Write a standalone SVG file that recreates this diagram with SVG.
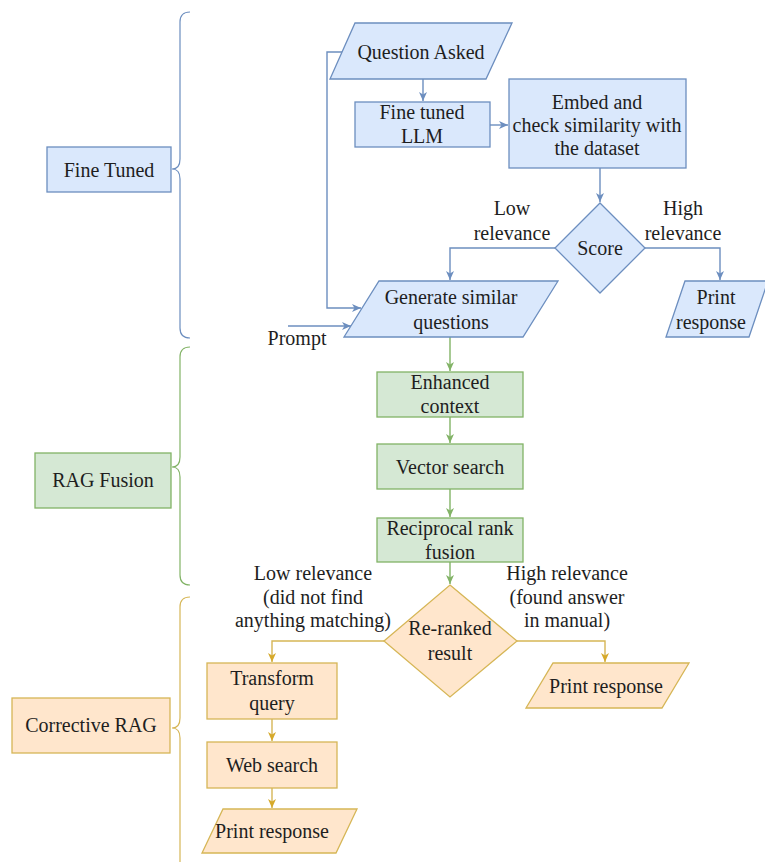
<svg xmlns="http://www.w3.org/2000/svg" width="765" height="862" viewBox="0 0 765 862">
<style>
text{font-family:"Liberation Serif","Times New Roman",serif;font-size:20px;fill:#1e1e1e;text-anchor:middle}
.b{fill:#dae8fc;stroke:#6c8ebf;stroke-width:1.3}
.g{fill:#d5e8d4;stroke:#82b366;stroke-width:1.3}
.o{fill:#ffe6cc;stroke:#d6b656;stroke-width:1.3}
.cb{fill:none;stroke:#6c8ebf;stroke-width:1.4}
.cg{fill:none;stroke:#82b366;stroke-width:1.4}
.co{fill:none;stroke:#d6b656;stroke-width:1.4}
.bb{fill:none;stroke:#6c8ebf;stroke-width:1.2}
.bg{fill:none;stroke:#82b366;stroke-width:1.2}
.bo{fill:none;stroke:#d6b656;stroke-width:1.2}
</style>
<defs>
<marker id="ab" markerUnits="userSpaceOnUse" markerWidth="10" markerHeight="10" refX="9" refY="5" orient="auto"><path d="M0,1 L9,5 L0,9 L2.5,5 Z" fill="#6c8ebf"/></marker>
<marker id="ag" markerUnits="userSpaceOnUse" markerWidth="10" markerHeight="10" refX="9" refY="5" orient="auto"><path d="M0,1 L9,5 L0,9 L2.5,5 Z" fill="#82b366"/></marker>
<marker id="ao" markerUnits="userSpaceOnUse" markerWidth="10" markerHeight="10" refX="9" refY="5" orient="auto"><path d="M0,1 L9,5 L0,9 L2.5,5 Z" fill="#d6a92a"/></marker>
</defs>
<rect width="765" height="862" fill="#ffffff"/>

<g id="braces">
<path class="bb" d="M190,12 Q180,12 180,22 V159 Q180,169 172,169 Q180,169 180,179 V328 Q180,338 190,338"/>
<path class="bg" d="M190,347 Q180,347 180,357 V457 Q180,467 172,467 Q180,467 180,477 V575 Q180,585 190,585"/>
<path class="bo" d="M190,597 Q180,597 180,607 V718 Q180,728 172,728 Q180,728 180,738 V862"/>
</g>

<g id="connectors">
<path class="cb" d="M423,79 V101" marker-end="url(#ab)"/>
<path class="cb" d="M490,125 H508" marker-end="url(#ab)"/>
<path class="cb" d="M600,168 V202" marker-end="url(#ab)"/>
<path class="cb" d="M555,248 H450 V280" marker-end="url(#ab)"/>
<path class="cb" d="M645,248 H720 V280" marker-end="url(#ab)"/>
<path class="cb" d="M342,52 H327 V308 H361" marker-end="url(#ab)"/>
<path class="cb" d="M288,326 H351" marker-end="url(#ab)"/>
<path class="cg" d="M450,337 V371" marker-end="url(#ag)"/>
<path class="cg" d="M450,417 V443" marker-end="url(#ag)"/>
<path class="cg" d="M450,489 V517" marker-end="url(#ag)"/>
<path class="cg" d="M450,562 V584" marker-end="url(#ag)"/>
<path class="co" d="M384,641 H272 V662" marker-end="url(#ao)"/>
<path class="co" d="M517,641 H605 V662" marker-end="url(#ao)"/>
<path class="co" d="M272,719 V741" marker-end="url(#ao)"/>
<path class="co" d="M272,788 V808" marker-end="url(#ao)"/>
</g>

<g id="fine-tuned">
<rect class="b" x="47" y="147" width="124" height="45"/>
<text x="109" y="177">Fine Tuned</text>
</g>
<g id="rag-fusion">
<rect class="g" x="35" y="453" width="136" height="55"/>
<text x="103" y="487">RAG Fusion</text>
</g>
<g id="corrective-rag">
<rect class="o" x="12" y="698" width="158" height="55"/>
<text x="91" y="732">Corrective RAG</text>
</g>

<g id="question-asked">
<polygon class="b" points="355,23 512,23 486,79 330,79"/>
<text x="421" y="59">Question Asked</text>
</g>
<g id="fine-tuned-llm">
<rect class="b" x="355" y="102" width="135" height="45"/>
<text x="422" y="119">Fine tuned</text>
<text x="422" y="143">LLM</text>
</g>
<g id="embed">
<rect class="b" x="509" y="79" width="177" height="89"/>
<text x="597" y="109">Embed and</text>
<text x="597" y="132">check similarity with</text>
<text x="597" y="155">the dataset</text>
</g>
<g id="score">
<polygon class="b" points="600,203 645,248 600,293 555,248"/>
<text x="600" y="255">Score</text>
</g>
<g id="score-labels">
<text x="512" y="215">Low</text>
<text x="512" y="240">relevance</text>
<text x="683" y="215">High</text>
<text x="683" y="240">relevance</text>
</g>
<g id="generate">
<polygon class="b" points="379,281 558,281 523,337 344,337"/>
<text x="451" y="304">Generate similar</text>
<text x="451" y="329">questions</text>
</g>
<g id="print-top">
<polygon class="b" points="685,281 768,281 749,337 666,337"/>
<text x="716" y="304">Print</text>
<text x="711" y="329">response</text>
</g>
<g id="prompt">
<text x="297" y="345">Prompt</text>
</g>

<g id="enhanced-context">
<rect class="g" x="377" y="372" width="146" height="45"/>
<text x="450" y="389">Enhanced</text>
<text x="450" y="413">context</text>
</g>
<g id="vector-search">
<rect class="g" x="377" y="444" width="146" height="45"/>
<text x="450" y="474">Vector search</text>
</g>
<g id="reciprocal">
<rect class="g" x="377" y="518" width="146" height="44"/>
<text x="450" y="535">Reciprocal rank</text>
<text x="450" y="559">fusion</text>
</g>

<g id="rerank-labels">
<text x="313" y="580">Low relevance</text>
<text x="313" y="604">(did not find</text>
<text x="313" y="627">anything matching)</text>
<text x="567" y="580">High relevance</text>
<text x="567" y="604">(found answer</text>
<text x="567" y="627">in manual)</text>
</g>
<g id="reranked">
<polygon class="o" points="450,585 517,641 450,697 384,641"/>
<text x="450" y="635">Re-ranked</text>
<text x="450" y="660">result</text>
</g>
<g id="print-right">
<polygon class="o" points="553,663 689,663 662,708 526,708"/>
<text x="606" y="693">Print response</text>
</g>
<g id="transform-query">
<rect class="o" x="207" y="663" width="130" height="56"/>
<text x="272" y="685">Transform</text>
<text x="272" y="710">query</text>
</g>
<g id="web-search">
<rect class="o" x="207" y="742" width="130" height="46"/>
<text x="272" y="772">Web search</text>
</g>
<g id="print-bottom">
<polygon class="o" points="223,809 357,809 336,853 202,853"/>
<text x="272" y="838">Print response</text>
</g>
</svg>
